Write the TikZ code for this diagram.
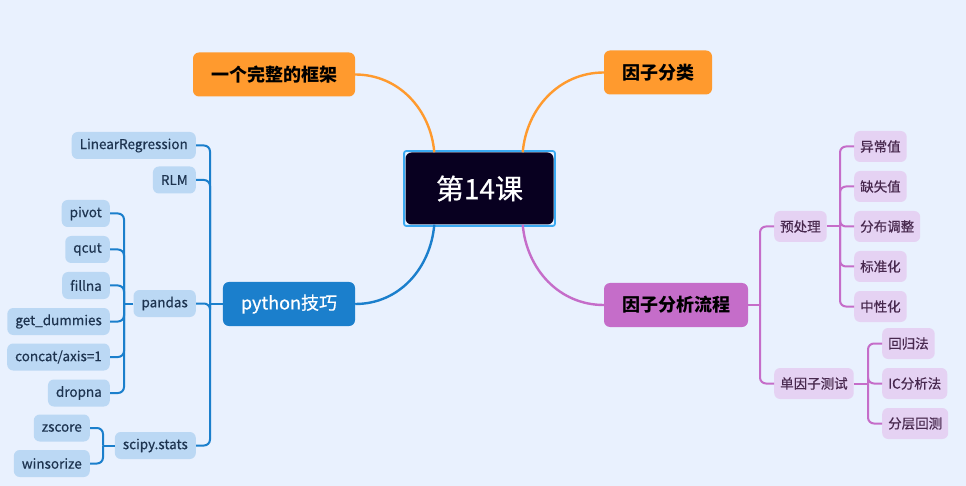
\documentclass[tikz,border=0pt]{standalone}
\usepackage{fontspec}
\setmainfont{Noto Sans CJK SC}
\newfontfamily\leaffont{Noto Sans CJK SC}[FakeBold=0.5]
\usetikzlibrary{positioning,fit}

\definecolor{bgblue}{RGB}{233,241,254}
\definecolor{rootdark}{RGB}{8,0,32}
\definecolor{ringblue}{RGB}{58,170,242}
\definecolor{branchorange}{RGB}{255,154,46}
\definecolor{branchblue}{RGB}{27,127,204}
\definecolor{branchpurple}{RGB}{197,109,201}
\definecolor{leafblue}{RGB}{187,216,244}
\definecolor{leafpurple}{RGB}{229,210,243}
\definecolor{leaftextblue}{RGB}{30,52,80}
\definecolor{leaftextpurple}{RGB}{72,40,78}

\tikzset{
  rootbox/.style={fill=rootdark, text=white, rounded corners=6pt,
    minimum width=148pt, minimum height=72pt,
    font=\leaffont\fontsize{28}{32}\selectfont},
  mainbox/.style={rounded corners=6pt, minimum height=44pt, inner xsep=18pt,
    font=\bfseries\fontsize{18}{21}\selectfont},
  orangebox/.style={mainbox, fill=branchorange, text=black},
  bluebox/.style={mainbox, fill=branchblue, text=white,
    font=\leaffont\fontsize{18}{21}\selectfont},
  purplebox/.style={mainbox, fill=branchpurple, text=black},
  blueleaf/.style={rounded corners=6pt, fill=leafblue, text=leaftextblue,
    minimum height=27pt, inner xsep=8pt, font=\leaffont\fontsize{13.5}{16}\selectfont},
  purpleleaf/.style={rounded corners=6pt, fill=leafpurple, text=leaftextpurple,
    minimum height=31pt, inner xsep=6pt, font=\leaffont\fontsize{13.5}{16}\selectfont},
  curvelink/.style={line width=2.4pt},
  bluelink/.style={draw=branchblue, line width=2pt, rounded corners=6pt},
  purplelink/.style={draw=branchpurple, line width=2pt, rounded corners=6pt}
}

\begin{document}
\begin{tikzpicture}[x=1pt, y=-1pt]
    % Canvas
    \fill[bgblue] (0,0) rectangle (966,486);
    \useasboundingbox (0,0) rectangle (966,486);

    % Central topic
    \node[rootbox] (root) at (479.5,188.5) {第14课};
    \node[fit=(root), inner sep=1.2pt, draw=ringblue, line width=1.8pt, rounded corners=2pt] (rootring) {};

    % Main branches
    \node[orangebox] (frame) at (274,74.5) {一个完整的框架};
    \node[orangebox] (classes) at (658,72.5) {因子分类};
    \node[bluebox] (python) at (289,304) {python技巧};
    \node[purplebox] (flow) at (676,305) {因子分析流程};

    \draw[curvelink, branchorange] ([xshift=29pt]root.north west) to[out=95, in=0] (frame.east);
    \draw[curvelink, branchorange] ([xshift=-31pt]root.north east) to[out=85, in=180] (classes.west);
    \draw[curvelink, branchblue] ([xshift=29pt]root.south west) to[out=-95, in=0] (python.east);
    \draw[curvelink, branchpurple] ([xshift=-31pt]root.south east) to[out=-85, in=180] (flow.west);

    % python branch
    \node[blueleaf, anchor=east] (linreg) at (196,145.5) {LinearRegression};
    \node[blueleaf, anchor=east] (rlm) at (196,180) {RLM};
    \node[blueleaf, anchor=east] (pandas) at (196,303.5) {pandas};
    \node[blueleaf, anchor=east] (scipy) at (196,445.5) {scipy.stats};

    \node[blueleaf, anchor=east] (pivot) at (110,213.5) {pivot};
    \node[blueleaf, anchor=east] (qcut) at (110,249.5) {qcut};
    \node[blueleaf, anchor=east] (fillna) at (110,285.5) {fillna};
    \node[blueleaf, anchor=east] (getdum) at (110,321.5) {get\_dummies};
    \node[blueleaf, anchor=east] (concat) at (110,357) {concat/axis=1};
    \node[blueleaf, anchor=east] (dropna) at (110,393) {dropna};

    \node[blueleaf, anchor=east] (zscore) at (90,428) {zscore};
    \node[blueleaf, anchor=east] (winsor) at (90,463.5) {winsorize};

    \coordinate (pyjoint) at (210,304);
    \coordinate (pdjoint) at (124,303.5);
    \coordinate (scjoint) at (103,445.5);

    \draw[bluelink] (python.west) -- (pyjoint);
    \foreach \leaf in {linreg, rlm, pandas, scipy}
        \draw[bluelink] (pyjoint) |- (\leaf.east);
    \draw[bluelink] (pandas.west) -- (pdjoint);
    \foreach \leaf in {pivot, qcut, fillna, getdum, concat, dropna}
        \draw[bluelink] (pdjoint) |- (\leaf.east);
    \draw[bluelink] (scipy.west) -- (scjoint);
    \foreach \leaf in {zscore, winsor}
        \draw[bluelink] (scjoint) |- (\leaf.east);

    % factor analysis branch
    \node[purpleleaf, anchor=west] (prep) at (774,226.5) {预处理};
    \node[purpleleaf, anchor=west] (single) at (774,383.5) {单因子测试};

    \node[purpleleaf, anchor=west] (outlier) at (854,146.5) {异常值};
    \node[purpleleaf, anchor=west] (missing) at (854,186.5) {缺失值};
    \node[purpleleaf, anchor=west] (adjust) at (854,226.5) {分布调整};
    \node[purpleleaf, anchor=west] (standard) at (854,266.5) {标准化};
    \node[purpleleaf, anchor=west] (neutral) at (854,306.5) {中性化};

    \node[purpleleaf, anchor=west] (regress) at (882,343.5) {回归法};
    \node[purpleleaf, anchor=west] (ictest) at (882,383.5) {IC分析法};
    \node[purpleleaf, anchor=west] (layer) at (882,423.5) {分层回测};

    \coordinate (flowjoint) at (760,305);
    \coordinate (prepjoint) at (840,226.5);
    \coordinate (singlejoint) at (868,383.5);

    \draw[purplelink] (flow.east) -- (flowjoint);
    \foreach \leaf in {prep, single}
        \draw[purplelink] (flowjoint) |- (\leaf.west);
    \draw[purplelink] (prep.east) -- (prepjoint);
    \foreach \leaf in {outlier, missing, adjust, standard, neutral}
        \draw[purplelink] (prepjoint) |- (\leaf.west);
    \draw[purplelink] (single.east) -- (singlejoint);
    \foreach \leaf in {regress, ictest, layer}
        \draw[purplelink] (singlejoint) |- (\leaf.west);
\end{tikzpicture}
\end{document}
